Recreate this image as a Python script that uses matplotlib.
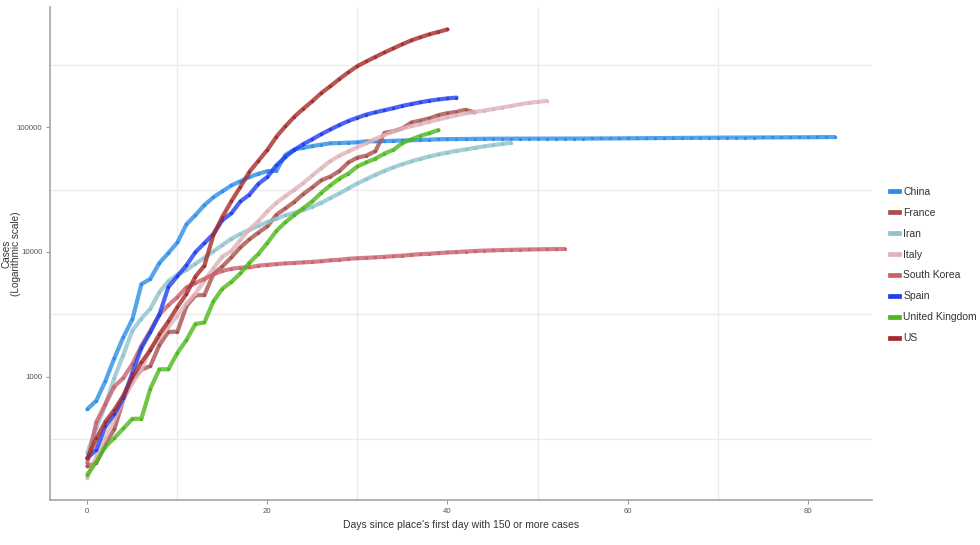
import matplotlib
matplotlib.use("Agg")
import matplotlib.pyplot as plt
from matplotlib.lines import Line2D
import numpy as np

# Cumulative cases, day 0 = first day with 150 or more cases
china = [548, 643, 920, 1406, 2075, 2877, 5509, 6087, 8141, 9802, 11891, 16630, 19716, 23707,
         27440, 30587, 34110, 36814, 39829, 42354, 44386, 44759, 59895, 66358, 68413, 70513,
         72434, 74211, 74619, 75077, 75550, 77001, 77022, 77241, 77754, 78166, 78600, 78928,
         79356, 79932, 80136, 80261, 80386, 80537, 80690, 80770, 80823, 80860, 80887, 80921,
         80932, 80945, 80977, 81003, 81033, 81058, 81102, 81156, 81250, 81305, 81435, 81498,
         81591, 81661, 81782, 81897, 81999, 82122, 82198, 82279, 82361, 82432, 82511, 82543,
         82602, 82665, 82718, 82809, 82883, 82941, 83014, 83134, 83213, 83306]
france = [191, 204, 288, 380, 656, 957, 1134, 1217, 1792, 2289, 2289, 3672, 4480, 4513, 6650,
          7652, 9043, 10871, 12612, 14282, 16018, 19856, 22304, 25233, 29155, 32964, 37575,
          40174, 44550, 52128, 56989, 59105, 64338, 89953, 92839, 98010, 109069, 112950,
          117749, 124869, 129654, 132591, 137875, 131361]
iran = [245, 388, 593, 978, 1501, 2336, 2922, 3513, 4747, 5823, 6566, 7161, 8042, 9000, 10075,
        11364, 12729, 13938, 14991, 16169, 17361, 18407, 19644, 20610, 21638, 23049, 24811,
        27017, 29406, 32332, 35408, 38309, 41495, 44605, 47593, 50468, 53183, 55743, 58226,
        60500, 62589, 64586, 66220, 68192, 70029, 71686, 73303, 74877]
italy = [155, 229, 322, 453, 655, 888, 1128, 1694, 2036, 2502, 3089, 3858, 4636, 5883, 7375,
         9172, 10149, 12462, 15113, 17660, 21157, 24747, 27980, 31506, 35713, 41035, 47021,
         53578, 59138, 63927, 69176, 74386, 80589, 86498, 92472, 97689, 101739, 105792,
         110574, 115242, 119827, 124632, 128948, 132547, 135586, 139422, 143626, 147577,
         152271, 156363, 159516, 162488]
south_korea = [204, 433, 602, 833, 977, 1261, 1766, 2337, 3150, 3736, 4335, 5186, 5621, 6088,
               6593, 7041, 7314, 7478, 7513, 7755, 7869, 7979, 8086, 8162, 8236, 8320, 8413,
               8565, 8652, 8799, 8897, 8961, 9037, 9137, 9241, 9332, 9478, 9583, 9661, 9786,
               9887, 9976, 10062, 10156, 10237, 10284, 10331, 10384, 10423, 10450, 10480,
               10512, 10537, 10564]
spain = [222, 259, 400, 500, 673, 1073, 1695, 2277, 3146, 5232, 6391, 7798, 9942, 11748, 13910,
         17963, 20410, 25374, 28768, 35136, 39885, 49515, 57786, 65719, 73235, 80110, 87956,
         95923, 104118, 112065, 119199, 126168, 131646, 136675, 141942, 148220, 153222,
         158273, 163027, 166831, 170099, 172541]
uk = [164, 207, 274, 322, 384, 459, 459, 802, 1144, 1145, 1551, 1960, 2642, 2716, 4014, 5067,
      5745, 6726, 8164, 9640, 11812, 14745, 17312, 19780, 22453, 25481, 29865, 34173, 38689,
      42477, 48436, 52279, 55949, 61474, 65872, 74605, 79874, 85206, 89570, 94845]
us = [221, 319, 435, 541, 704, 994, 1301, 1630, 2183, 2770, 3613, 4596, 6344, 7750, 13680,
      19101, 25493, 33276, 43847, 53740, 65778, 83836, 101657, 121465, 140909, 161831, 188172,
      213242, 243622, 275367, 308650, 336802, 366317, 397121, 428654, 462780, 496535, 526396,
      555313, 580619, 607670]

places = ["China", "France", "Iran", "Italy", "South Korea", "Spain", "United Kingdom", "US"]
series = [china, france, iran, italy, south_korea, spain, uk, us]
colors = ["#2b8de8", "#a8504d", "#8fc2cc", "#dfb3ba", "#c9616c", "#1f3ef0", "#4cb81a", "#a52a2a"]

plt.rcParams["font.family"] = ["Liberation Sans", "DejaVu Sans"]

fig = plt.figure(figsize=(9.8, 5.45), dpi=100)
ax = fig.add_axes([50 / 980, 45 / 545, 822 / 980, 493 / 545])

for name, vals, col in zip(places, series, colors):
    days = np.arange(len(vals))
    ax.plot(days, vals, color=col, lw=3.0, alpha=0.8, solid_capstyle="round", zorder=3)
    ax.plot(days, vals, "o", color=col, ms=2.4, mew=0, alpha=0.9, zorder=3)

ax.set_yscale("log")
all_vals = np.concatenate([np.array(s, dtype=float) for s in series])
lo, hi = np.log10(all_vals.min()), np.log10(all_vals.max())
pad = 0.05 * (hi - lo)
ax.set_ylim(10 ** (lo - pad), 10 ** (hi + pad))
ax.set_xlim(-0.05 * 83, 83 * 1.05)

ax.set_yticks([1000, 10000, 100000])
ax.set_yticklabels(["1000", "10000", "100000"])
ax.set_xticks([0, 20, 40, 60, 80])
ax.yaxis.set_minor_locator(matplotlib.ticker.FixedLocator([10 ** 2.5, 10 ** 3.5, 10 ** 4.5, 10 ** 5.5]))
ax.xaxis.set_minor_locator(matplotlib.ticker.FixedLocator([10, 30, 50, 70]))
ax.grid(False, which="major")
ax.grid(True, which="minor", color="#ebebeb", lw=1.0)
ax.set_axisbelow(True)
ax.tick_params(which="minor", length=0)
ax.tick_params(which="major", length=3, width=0.8, color="#999999", labelcolor="#555555",
               labelsize=5.6, pad=2.5)

for side in ["top", "right"]:
    ax.spines[side].set_visible(False)
for side in ["left", "bottom"]:
    ax.spines[side].set_color("#a6a6a6")
    ax.spines[side].set_linewidth(1.2)

ax.set_xlabel("Days since place's first day with 150 or more cases",
              fontsize=7.5, color="#333333", labelpad=4)
ax.set_ylabel("Cases\n(Logarithmic scale)", fontsize=7.2, color="#333333", linespacing=1.0)
ax.yaxis.set_label_coords(-0.035, 0.5)

handles = [Line2D([0], [0], color=c, lw=3.4) for c in colors]
fig.legend(handles, places, loc="center left", bbox_to_anchor=(886 / 980, 1 - 265 / 545),
           frameon=False, handlelength=0.8, handletextpad=0.45, labelspacing=1.05,
           prop={"size": 7.5}, labelcolor="#333333", borderaxespad=0.0)

fig.savefig("out.png", dpi=100)
